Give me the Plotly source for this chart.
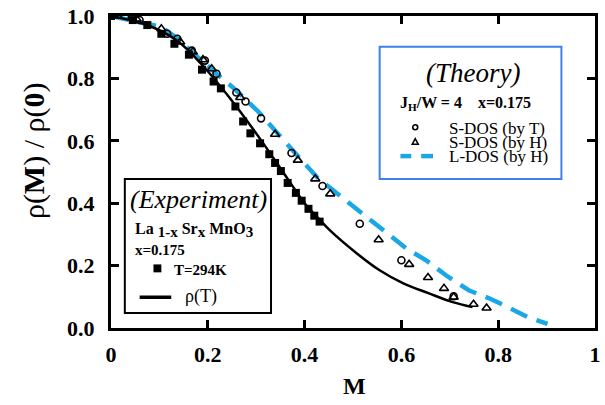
import plotly.graph_objects as go

# ---- data ----
# Experiment: La(1-x)Sr(x)MnO3, x=0.175, T=294K
exp_m = [0.0, 0.045, 0.075, 0.104, 0.131, 0.161, 0.188, 0.212, 0.227, 0.257, 0.273,
         0.288, 0.308, 0.327, 0.339, 0.351, 0.365, 0.382, 0.394, 0.408, 0.420, 0.431]
exp_rho = [1.0, 0.987, 0.971, 0.943, 0.911, 0.876, 0.828, 0.790, 0.768, 0.710, 0.662,
           0.624, 0.592, 0.557, 0.529, 0.503, 0.465, 0.433, 0.408, 0.382, 0.360, 0.341]

# rho(T) curve
rt_m = [0.0, 0.08, 0.14, 0.186, 0.243, 0.304, 0.365, 0.40, 0.427, 0.453, 0.508,
        0.555, 0.604, 0.657, 0.706, 0.747]
rt_rho = [1.0, 0.968, 0.917, 0.847, 0.742, 0.615, 0.478, 0.40, 0.354, 0.312, 0.239,
          0.185, 0.143, 0.111, 0.083, 0.067]

# Theory: S-DOS (by T)
sdt_m = [0.043, 0.059, 0.116, 0.137, 0.167, 0.194, 0.218, 0.259, 0.278, 0.310,
         0.373, 0.437, 0.514, 0.600, 0.708]
sdt_rho = [0.997, 0.987, 0.943, 0.927, 0.889, 0.857, 0.815, 0.755, 0.726, 0.672,
           0.561, 0.455, 0.334, 0.217, 0.102]

# Theory: S-DOS (by H)
sdh_m = [0.014, 0.053, 0.104, 0.143, 0.169, 0.190, 0.208, 0.267, 0.339, 0.386,
         0.422, 0.453, 0.553, 0.616, 0.655, 0.688, 0.708, 0.749, 0.776]
sdh_rho = [1.0, 0.990, 0.959, 0.917, 0.885, 0.860, 0.831, 0.739, 0.621, 0.538,
           0.478, 0.430, 0.283, 0.204, 0.162, 0.127, 0.099, 0.076, 0.064]

# Theory: L-DOS (by H)
ld_m = [0.0, 0.104, 0.141, 0.167, 0.218, 0.257, 0.304, 0.345, 0.386, 0.427, 0.478,
        0.524, 0.563, 0.610, 0.651, 0.692, 0.739, 0.780, 0.820, 0.861, 0.902]
ld_rho = [1.0, 0.965, 0.924, 0.885, 0.815, 0.764, 0.694, 0.621, 0.551, 0.481, 0.417,
          0.360, 0.312, 0.255, 0.217, 0.169, 0.121, 0.096, 0.067, 0.035, 0.013]

x_ticks = [0, 0.2, 0.4, 0.6, 0.8, 1]
x_tick_text = ["0", "0.2", "0.4", "0.6", "0.8", "1"]
y_ticks = [0, 0.2, 0.4, 0.6, 0.8, 1.0]
y_tick_text = ["0.0", "0.2", "0.4", "0.6", "0.8", "1.0"]

SERIF = "Liberation Serif, Times New Roman, serif"
BLUE = "#1aa7e6"
BOX_BLUE = "#3f7ff0"

W, H = 605, 405
L, R, T, B = 111, 4, 14, 77
PW, PH = W - L - R, H - T - B


def px(x):
    return (x - L) / PW


def py(y):
    return (H - B - y) / PH


def label(x, y, text, size=15, anchor="left", angle=0):
    return dict(x=px(x), y=py(y), xref="paper", yref="paper", text=text,
                xanchor=anchor, yanchor="middle", textangle=angle, showarrow=False,
                borderpad=0, font=dict(family=SERIF, size=size, color="black"))


def sub(s, size=15):
    return f"<sub><span style='font-size:{size}px'>{s}</span></sub>"


fig = go.Figure()

fig.add_trace(go.Scatter(x=ld_m, y=ld_rho, mode="lines",
                         line=dict(color=BLUE, width=4.5, dash="18px,10px"),
                         showlegend=False))
fig.add_trace(go.Scatter(x=rt_m, y=rt_rho, mode="lines", line_shape="spline",
                         line=dict(color="black", width=2.5), showlegend=False))
fig.add_trace(go.Scatter(x=exp_m, y=exp_rho, mode="markers",
                         marker=dict(symbol="square", size=8, color="black"),
                         showlegend=False))
fig.add_trace(go.Scatter(x=sdt_m, y=sdt_rho, mode="markers",
                         marker=dict(symbol="circle-open", size=7, color="black",
                                     line=dict(width=1.6)),
                         showlegend=False))
fig.add_trace(go.Scatter(x=sdh_m, y=sdh_rho, mode="markers",
                         marker=dict(symbol="triangle-up-open", size=8, color="black",
                                     line=dict(width=1.6)),
                         showlegend=False))

axis_common = dict(showline=True, linecolor="black", linewidth=3, mirror="ticks",
                   ticks="inside", ticklen=8, tickwidth=2.5, tickcolor="black",
                   showgrid=False, zeroline=False,
                   tickfont=dict(family=SERIF, size=22, color="black", weight="bold"))

fig.update_xaxes(range=[0, 1], tickvals=x_ticks, ticktext=x_tick_text,
                 ticklabelstandoff=5, **axis_common)
fig.update_yaxes(range=[0, 1], tickvals=y_ticks, ticktext=y_tick_text,
                 ticklabelstandoff=9, **axis_common)

shapes = []
ann = []

# axis titles
ann.append(label(358, 386, "<b>M</b>", size=24, anchor="center"))
ann.append(label(33, 149, "ρ(<b>M</b>) / ρ(<b>0</b>)", size=30, anchor="center",
                 angle=-90))

# Experiment box
shapes.append(dict(type="rect", xref="paper", yref="paper",
                   x0=px(125), x1=px(273), y0=py(313), y1=py(178),
                   line=dict(color="black", width=2), fillcolor="white", layer="above"))
ann.append(label(200, 199, "<i>(Experiment)</i>", size=26, anchor="center"))
ann.append(label(134, 229,
                 "<b>La " + sub("1-x") + " Sr" + sub("x") + " MnO" + sub("3") + "</b>",
                 size=16))
ann.append(label(134, 250, "<b>x=0.175</b>", size=15))
shapes.append(dict(type="rect", xref="paper", yref="paper",
                   x0=px(154), x1=px(162), y0=py(272), y1=py(264),
                   line=dict(width=0), fillcolor="black", layer="above"))
ann.append(label(174, 270, "<b>T=294K</b>", size=15))
shapes.append(dict(type="line", xref="paper", yref="paper",
                   x0=px(140), x1=px(172), y0=py(297), y1=py(297),
                   line=dict(color="black", width=3.5), layer="above"))
ann.append(label(185, 296, "ρ(T)", size=18))

# Theory box
shapes.append(dict(type="rect", xref="paper", yref="paper",
                   x0=px(383), x1=px(567), y0=py(178), y1=py(45),
                   line=dict(color=BOX_BLUE, width=2), fillcolor="white", layer="above"))
ann.append(label(477, 71, "<i>(Theory)</i>", size=27, anchor="center"))
ann.append(label(403, 102, "<b>J<sub>H</sub>/W = 4    x=0.175</b>", size=16))
shapes.append(dict(type="circle", xref="paper", yref="paper",
                   x0=px(416.5), x1=px(421.5), y0=py(128.5), y1=py(123.5),
                   line=dict(color="black", width=1.6), layer="above"))
ann.append(label(452, 127, "S-DOS (by T)", size=17))
shapes.append(dict(type="path", xref="paper", yref="paper",
                   path=f"M {px(416)} {py(143)} L {px(422)} {py(143)} L {px(419)} {py(137.5)} Z",
                   line=dict(color="black", width=1.6), layer="above"))
ann.append(label(452, 141, "S-DOS (by H)", size=17))
shapes.append(dict(type="line", xref="paper", yref="paper",
                   x0=px(404), x1=px(415), y0=py(155), y1=py(155),
                   line=dict(color=BLUE, width=4.5), layer="above"))
shapes.append(dict(type="line", xref="paper", yref="paper",
                   x0=px(425), x1=px(437), y0=py(155), y1=py(155),
                   line=dict(color=BLUE, width=4.5), layer="above"))
ann.append(label(452, 155, "L-DOS (by H)", size=17))

fig.update_layout(width=W, height=H, margin=dict(l=L, r=R, t=T, b=B),
                  paper_bgcolor="white", plot_bgcolor="white",
                  shapes=shapes, annotations=ann, showlegend=False)

fig.write_html("out.html")
